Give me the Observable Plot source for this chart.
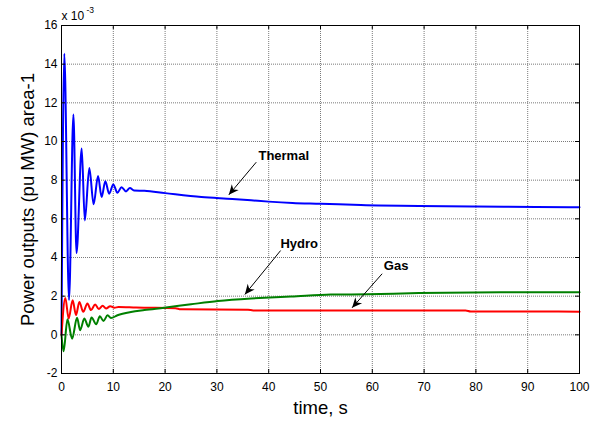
<!DOCTYPE html>
<html>
<head>
<meta charset="utf-8">
<script src="https://cdn.jsdelivr.net/npm/d3@7"></script>
<script src="https://cdn.jsdelivr.net/npm/@observablehq/plot@0.6"></script>
<style>
  html, body { margin: 0; padding: 0; background: #fff; }
  svg { display: block; }
</style>
</head>
<body>
<div id="chart"></div>
<script>
// ---- data (values in units of 10^-3 pu MW) ----
const thermalT = [0, 0.54, 1.45, 2.3, 2.9, 3.9, 4.5, 5.37, 6.2, 7.05, 7.75, 8.46, 9.2, 10, 10.8, 11.6, 12.45, 13.2, 14, 16, 20, 27, 33, 36.6, 40, 44.6, 50, 57.8, 69, 80, 91.6, 100];
const thermalV = [0, 14.54, 1.8, 11.4, 4.23, 9.64, 5.92, 8.63, 6.75, 8.21, 7.13, 7.94, 7.3, 7.78, 7.35, 7.64, 7.42, 7.59, 7.47, 7.45, 7.33, 7.13, 7.03, 6.96, 6.89, 6.82, 6.78, 6.71, 6.66, 6.64, 6.61, 6.6];

const hydroT = [0, 0.4, 1.15, 2.05, 3.0, 3.6, 4.4, 5.2, 5.8, 6.7, 7.4, 8.1, 8.9, 9.55, 10.8, 13.4, 16, 19.8, 25, 30.2, 36.6, 39.2, 44.3, 52, 59, 69, 88, 100];
const hydroV = [0, -0.85, 0.8, -0.2, 0.88, 0.24, 0.84, 0.42, 0.9, 0.55, 0.96, 0.72, 1.01, 0.87, 1.01, 1.18, 1.28, 1.4, 1.58, 1.75, 1.88, 1.92, 1.98, 2.08, 2.1, 2.16, 2.2, 2.2];

const gasT = [0, 0.74, 1.38, 2.15, 2.8, 3.45, 4.2, 5.0, 5.7, 6.5, 7.2, 7.95, 8.6, 9.4, 10.2, 11, 14.4, 22, 23, 36, 37, 78, 79, 100];
const gasV = [0, 1.91, 0.84, 1.79, 1.02, 1.7, 1.19, 1.62, 1.28, 1.57, 1.33, 1.5, 1.36, 1.48, 1.4, 1.44, 1.41, 1.38, 1.32, 1.3, 1.26, 1.26, 1.21, 1.2];

const xTicks = [0, 10, 20, 30, 40, 50, 60, 70, 80, 90, 100];
const yTicks = [-2, 0, 2, 4, 6, 8, 10, 12, 14, 16];

const labelNames = ["Thermal", "Hydro", "Gas"];
const labelT = [42.9, 45.9, 64.6];
const labelV = [9.28, 4.72, 3.55];
const arrowT1 = [37.6, 42.3, 61.9];
const arrowV1 = [8.93, 4.36, 3.16];
const arrowT2 = [32.3, 35.4, 56.1];
const arrowV2 = [7.24, 2.09, 1.40];

const xLabel = "time, s";
const yLabel = "Power outputs (pu MW) area-1";
const scaleText = "x 10";
const scaleExp = "-3";

// ---- tables ----
const toRows = (T, V) => T.map((t, i) => ({t, v: V[i]}));
const thermal = toRows(thermalT, thermalV);
const hydro = toRows(hydroT, hydroV);
const gas = toRows(gasT, gasV);
const labels = labelNames.map((name, i) => ({name, t: labelT[i], v: labelV[i]}));
const arrows = labelNames.map((name, i) => ({t1: arrowT1[i], v1: arrowV1[i], t2: arrowT2[i], v2: arrowV2[i]}));

const font = "'Liberation Sans', Arial, Helvetica, sans-serif";
const gridStyle = {stroke: "#7a7a7a", strokeOpacity: 1, strokeWidth: 1, strokeDasharray: "1,1"};

const chart = Plot.plot({
  width: 603,
  height: 421,
  marginLeft: 61,
  marginRight: 24,
  marginTop: 25,
  marginBottom: 48,
  style: {fontFamily: font, background: "#fff", color: "#000"},
  x: {domain: [0, 100]},
  y: {domain: [-2, 16]},
  marks: [
    Plot.gridX(xTicks, gridStyle),
    Plot.gridY(yTicks, gridStyle),
    Plot.line(thermal, {x: "t", y: "v", stroke: "#0000ff", strokeWidth: 2, curve: "monotone-x"}),
    Plot.line(gas, {x: "t", y: "v", stroke: "#ff0000", strokeWidth: 2, curve: "monotone-x"}),
    Plot.line(hydro, {x: "t", y: "v", stroke: "#008000", strokeWidth: 2, curve: "monotone-x"}),
    Plot.frame({stroke: "#000", strokeWidth: 1}),
    Plot.tickX(xTicks, {x: d => d, insetTop: 344, stroke: "#000"}),
    Plot.tickX(xTicks, {x: d => d, insetBottom: 344, stroke: "#000"}),
    Plot.tickY(yTicks, {y: d => d, insetRight: 514, stroke: "#000"}),
    Plot.tickY(yTicks, {y: d => d, insetLeft: 514, stroke: "#000"}),
    Plot.axisX({ticks: xTicks, tickSize: 0, tickPadding: 9, fontSize: 12, label: null, tickFormat: d => String(d)}),
    Plot.axisY({ticks: yTicks, tickSize: 0, tickPadding: 4, fontSize: 12, label: null, tickFormat: d => String(d)}),
    Plot.link(arrows, {x1: "t1", y1: "v1", x2: "t2", y2: "v2", stroke: "#000", strokeWidth: 1, markerEnd: "arrow"}),
    Plot.text(labels, {x: "t", y: "v", text: "name", fontWeight: "bold", fontSize: 13, fill: "#000"}),
    Plot.text([xLabel], {text: d => d, frameAnchor: "bottom", textAnchor: "middle", dy: 40, lineAnchor: "bottom", fontSize: 18.5, fill: "#000"}),
    Plot.text([yLabel], {text: d => d, frameAnchor: "left", textAnchor: "middle", dx: -28, rotate: -90, lineAnchor: "bottom", fontSize: 18.5, fill: "#000"}),
    Plot.text([scaleText], {text: d => d, frameAnchor: "top-left", dy: -6, textAnchor: "start", lineAnchor: "bottom", fontSize: 12, fill: "#000"}),
    Plot.text([scaleExp], {text: d => d, frameAnchor: "top-left", dx: 25, dy: -13, textAnchor: "start", lineAnchor: "bottom", fontSize: 8.5, fill: "#000"})
  ]
});

// filled MATLAB-style arrowheads
chart.querySelectorAll("marker").forEach(m => {
  m.setAttribute("viewBox", "-11 -5 12 10");
  m.setAttribute("markerWidth", "12");
  m.setAttribute("markerHeight", "10");
  m.setAttribute("markerUnits", "userSpaceOnUse");
  m.setAttribute("fill", "#000");
  m.setAttribute("stroke", "none");
  m.innerHTML = "";
  const p = document.createElementNS("http://www.w3.org/2000/svg", "path");
  p.setAttribute("d", "M0,0L-10,-4.5L-7,0L-10,4.5Z");
  m.appendChild(p);
});

document.getElementById("chart").appendChild(chart);
</script>
</body>
</html>
